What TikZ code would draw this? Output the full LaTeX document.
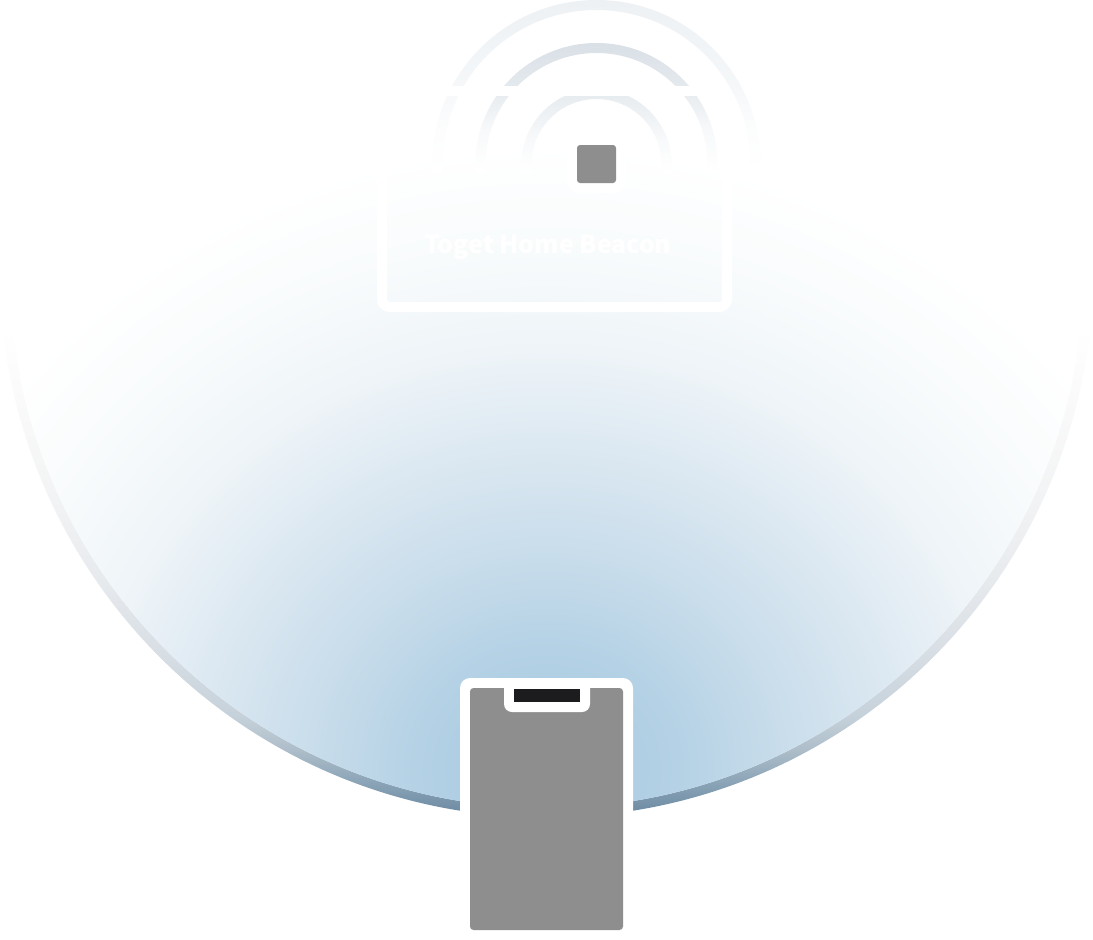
\documentclass[tikz,border=0pt]{standalone}
\usepackage{fontspec}
\newfontfamily\tgfont{Noto Sans CJK KR}
\definecolor{rA}{HTML}{6F8DA5}\definecolor{rB}{HTML}{90A8BA}\definecolor{rC}{HTML}{ADBDC9}
\definecolor{rD}{HTML}{C5D1DA}\definecolor{rE}{HTML}{D9DFE5}\definecolor{rF}{HTML}{E8EBEE}\definecolor{rG}{HTML}{F2F3F4}\definecolor{rH}{HTML}{FAFAFA}
\definecolor{gA}{HTML}{A7CAE1}\definecolor{gB}{HTML}{B4D1E5}\definecolor{gC}{HTML}{C9DDEB}
\definecolor{gD}{HTML}{DDE9F2}\definecolor{gE}{HTML}{EEF4F8}\definecolor{gF}{HTML}{F8FBFC}
\definecolor{aA}{HTML}{EDF1F4}\definecolor{aB}{HTML}{D9E0E6}\definecolor{aC}{HTML}{E7ECF0}
\definecolor{chip}{HTML}{8E8E8E}\definecolor{notch}{HTML}{1C1C1E}
\pgfdeclareverticalshading{bigring}{100bp}{color(0bp)=(rA);color(25.64bp)=(rA);color(28.66bp)=(rB);color(31.13bp)=(rC);color(34.16bp)=(rD);color(40.57bp)=(rE);color(47.34bp)=(rF);color(54.03bp)=(rG);color(63.2bp)=(rH);color(69.6bp)=(white);color(100bp)=(white)}
\pgfdeclareradialshading{glow}{\pgfpoint{0bp}{0bp}}{color(0bp)=(gA);color(4.8bp)=(gB);color(8.8bp)=(gC);color(13.2bp)=(gD);color(16.8bp)=(gE);color(20.8bp)=(gF);color(25bp)=(white);color(50bp)=(white)}
% arcs: the box runs over y 0..172, so y maps to 25bp+(172-y)*50/172
\pgfdeclareverticalshading{arcone}{100bp}{color(0bp)=(white);color(25bp)=(white);color(37.2bp)=(white!85!aA);color(50bp)=(white!45!aA);color(75bp)=(aA);color(100bp)=(aA)}
\pgfdeclareverticalshading{arctwo}{100bp}{color(0bp)=(white);color(25bp)=(white);color(37.2bp)=(white!80!aB);color(50bp)=(white!30!aB);color(62.5bp)=(aB);color(100bp)=(aB)}
\pgfdeclareverticalshading{arcthree}{100bp}{color(0bp)=(white);color(25bp)=(white);color(34.3bp)=(white!70!aC);color(47.1bp)=(aC);color(100bp)=(aC)}
\tikzset{
  ringarc/.style={even odd rule},
  whitestroke/.style={draw=white,line width=10pt},
}
\begin{document}
\begin{tikzpicture}[x=1pt,y=-1pt]
\useasboundingbox[fill=white] (0,0) rectangle (1093,940);
\coordinate (big) at (546.5,271);
\coordinate (glowc) at (546.5,770);
\coordinate (bc) at (596.5,164);
% big disc: ring then glow
\begin{scope}[ringarc]
  \clip (big) circle (546.5) (big) circle (537);
  \shade[shading=bigring] (0,271) rectangle (1093,817);
\end{scope}
\begin{scope}
  \clip (big) circle (537);
  \shade[shading=glow] (glowc) ellipse (675 and 625);
\end{scope}
% beacon arcs
\begin{scope}[ringarc]
  \clip (bc) circle (164) (bc) circle (154);
  \shade[shading=arcone] (420,0) rectangle (770,172);
\end{scope}
\begin{scope}[ringarc]
  \clip (bc) circle (121) (bc) circle (111);
  \shade[shading=arctwo] (420,0) rectangle (770,172);
\end{scope}
\begin{scope}[ringarc]
  \clip (bc) circle (75) (bc) circle (65);
  \shade[shading=arcthree] (420,0) rectangle (770,172);
\end{scope}
\fill[white] (447,86) rectangle (698,96);
% beacon card
\draw[whitestroke,rounded corners=8pt] (382,140) -- (382,307) -- (727,307) -- (727,140);
\fill[white,rounded corners=12pt] (567,135) rectangle (626,193);
\fill[chip,rounded corners=3pt] (577,145) rectangle (616,183);
\node[anchor=base west,inner sep=0pt,text=white,font=\tgfont\bfseries\fontsize{24.85}{28}\selectfont] (beaconlabel) at (424,253) {Toget Home Beacon};
% phone
\fill[white] (460,940) [rounded corners=10pt] -- (460,678) -- (633,678) [sharp corners] -- (633,940) -- cycle;
\fill[chip,rounded corners=3.5pt] (470,688) rectangle (623,930);
\fill[white] (504,686) [rounded corners=8pt] -- (504,712) -- (590,712) [sharp corners] -- (590,686) -- cycle;
\fill[notch] (514,689) rectangle (580,702);
\end{tikzpicture}
\end{document}
